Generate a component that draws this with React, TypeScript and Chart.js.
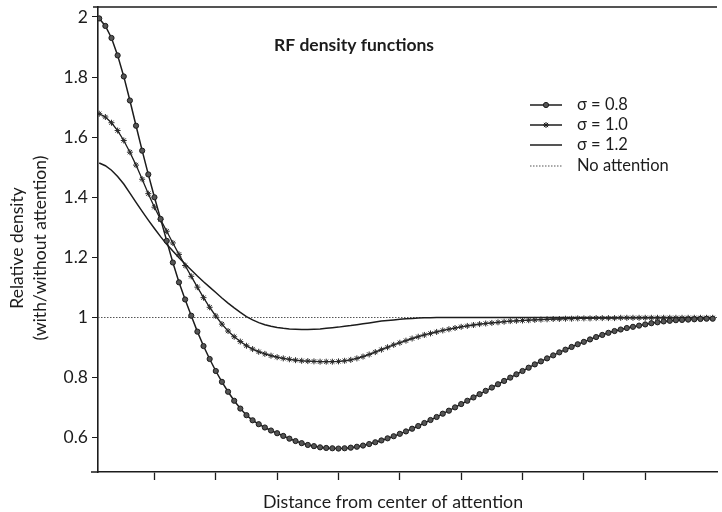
import React, { useEffect, useRef } from "react";
import { Chart, registerables } from "chart.js";

Chart.register(...registerables);

// Distance from the attended location (arbitrary units)
const distance = [
  0.1, 0.2, 0.3, 0.4, 0.5, 0.6, 0.7, 0.8, 0.9, 1.0,
  1.1, 1.2, 1.3, 1.4, 1.5, 1.6, 1.7, 1.8, 1.9, 2.0,
  2.1, 2.2, 2.3, 2.4, 2.5, 2.6, 2.7, 2.8, 2.9, 3.0,
  3.1, 3.2, 3.3, 3.4, 3.5, 3.6, 3.7, 3.8, 3.9, 4.0,
  4.1, 4.2, 4.3, 4.4, 4.5, 4.6, 4.7, 4.8, 4.9, 5.0,
  5.1, 5.2, 5.3, 5.4, 5.5, 5.6, 5.7, 5.8, 5.9, 6.0,
  6.1, 6.2, 6.3, 6.4, 6.5, 6.6, 6.7, 6.8, 6.9, 7.0,
  7.1, 7.2, 7.3, 7.4, 7.5, 7.6, 7.7, 7.8, 7.9, 8.0,
  8.1, 8.2, 8.3, 8.4, 8.5, 8.6, 8.7, 8.8, 8.9, 9.0,
  9.1, 9.2, 9.3, 9.4, 9.5, 9.6, 9.7, 9.8, 9.9, 10.0,
  10.1,
];

// Relative RF density, sigma = 0.8
const sigma08 = [
  1.995, 1.970, 1.930, 1.872, 1.802, 1.722, 1.638, 1.555, 1.476, 1.400,
  1.328, 1.255, 1.183, 1.117, 1.060, 1.006, 0.953, 0.905, 0.862, 0.822,
  0.786, 0.753, 0.723, 0.697, 0.675, 0.658, 0.645, 0.634, 0.624, 0.615,
  0.606, 0.597, 0.589, 0.582, 0.576, 0.572, 0.568, 0.566, 0.565, 0.564,
  0.565, 0.567, 0.570, 0.574, 0.579, 0.585, 0.591, 0.598, 0.605, 0.613,
  0.621, 0.630, 0.639, 0.649, 0.659, 0.669, 0.680, 0.690, 0.701, 0.712,
  0.723, 0.734, 0.745, 0.756, 0.767, 0.778, 0.789, 0.800, 0.811, 0.822,
  0.833, 0.844, 0.854, 0.864, 0.874, 0.884, 0.893, 0.902, 0.911, 0.919,
  0.927, 0.935, 0.942, 0.949, 0.955, 0.960, 0.965, 0.969, 0.973, 0.977,
  0.981, 0.984, 0.987, 0.989, 0.991, 0.992, 0.993, 0.994, 0.995, 0.996,
  0.996,
];

// Relative RF density, sigma = 1.0
const sigma10 = [
  1.678, 1.667, 1.648, 1.622, 1.589, 1.550, 1.507, 1.460, 1.412, 1.367,
  1.326, 1.287, 1.248, 1.210, 1.173, 1.137, 1.101, 1.066, 1.034, 1.005,
  0.978, 0.955, 0.936, 0.920, 0.906, 0.895, 0.886, 0.879, 0.873, 0.868,
  0.864, 0.861, 0.858, 0.856, 0.855, 0.854, 0.853, 0.853, 0.853, 0.854,
  0.856, 0.859, 0.864, 0.870, 0.877, 0.885, 0.893, 0.901, 0.909, 0.916,
  0.923, 0.930, 0.936, 0.942, 0.947, 0.952, 0.957, 0.961, 0.965, 0.969,
  0.972, 0.975, 0.978, 0.980, 0.982, 0.984, 0.986, 0.988, 0.989, 0.990,
  0.991, 0.992, 0.993, 0.994, 0.995, 0.995, 0.996, 0.996, 0.997, 0.997,
  0.997, 0.998, 0.998, 0.998, 0.998, 0.999, 0.999, 0.999, 0.999, 0.999,
  0.999, 0.999, 0.999, 0.999, 0.999, 0.999, 0.999, 0.999, 0.999, 0.999,
  0.999,
];

// Relative RF density, sigma = 1.2
const sigma12 = [
  1.514, 1.505, 1.490, 1.469, 1.444, 1.414, 1.383, 1.353, 1.324, 1.296,
  1.269, 1.244, 1.221, 1.199, 1.178, 1.158, 1.138, 1.119, 1.101, 1.083,
  1.065, 1.048, 1.032, 1.017, 1.003, 0.992, 0.983, 0.976, 0.971, 0.967,
  0.964, 0.962, 0.961, 0.960, 0.960, 0.961, 0.962, 0.964, 0.966, 0.968,
  0.971, 0.973, 0.976, 0.979, 0.982, 0.985, 0.988, 0.990, 0.992, 0.994,
  0.996, 0.997, 0.998, 0.999, 0.999, 1.000, 1.000, 1.000, 1.000, 1.000,
  1.000, 1.000, 1.000, 1.000, 1.000, 1.000, 1.000, 1.000, 1.000, 1.000,
  1.000, 1.000, 1.000, 1.000, 1.000, 1.000, 1.000, 1.000, 1.000, 1.000,
  1.000, 1.000, 1.000, 1.000, 1.000, 1.000, 1.000, 1.000, 1.000, 1.000,
  1.000, 1.000, 1.000, 1.000, 1.000, 1.000, 1.000, 1.000, 1.000, 1.000,
  1.000,
];

// Baseline without attention (density ratio of 1 everywhere)
const noAttention = [1, 1];

const yTicks = [0.6, 0.8, 1, 1.2, 1.4, 1.6, 1.8, 2];
const xTicks = [1, 2, 3, 4, 5, 6, 7, 8, 9];

const seriesLabels = ["σ = 0.8", "σ = 1.0", "σ = 1.2", "No attention"];
const chartTitle = "RF density functions";
const xTitle = "Distance from center of attention";
const yTitle = ["Relative density", "(with/without attention)"];

const X_MIN = 0.08;
const X_MAX = 10.17;
const Y_MIN = 0.486;
const Y_MAX = 2.033;

const INK = "#1c1c1c";
const FONT = "Lato, 'Open Sans', 'DejaVu Sans', sans-serif";

const toPoints = (ys: number[]) => ys.map((y, i) => ({ x: distance[i], y }));

function drawMarker(ctx: CanvasRenderingContext2D, kind: string, x: number, y: number) {
  ctx.save();
  ctx.lineWidth = 1;
  ctx.strokeStyle = "#1c1c1c";
  if (kind === "circle") {
    ctx.fillStyle = "#555";
    ctx.beginPath();
    ctx.arc(x, y, 2.6, 0, Math.PI * 2);
    ctx.fill();
    ctx.stroke();
  } else if (kind === "star") {
    const r = 3;
    const d = r * Math.SQRT1_2;
    ctx.beginPath();
    ctx.moveTo(x - r, y); ctx.lineTo(x + r, y);
    ctx.moveTo(x, y - r); ctx.lineTo(x, y + r);
    ctx.moveTo(x - d, y - d); ctx.lineTo(x + d, y + d);
    ctx.moveTo(x - d, y + d); ctx.lineTo(x + d, y - d);
    ctx.stroke();
  }
  ctx.restore();
}

const decorations = {
  id: "decorations",
  afterDraw(chart: Chart) {
    const { ctx, chartArea: a } = chart;
    ctx.save();

    // frame line along the top and the short stub of the x axis
    ctx.strokeStyle = INK;
    ctx.lineWidth = 1.6;
    ctx.beginPath();
    ctx.moveTo(a.left - 5, a.top);
    ctx.lineTo(a.right, a.top);
    ctx.moveTo(a.left - 7, a.bottom);
    ctx.lineTo(a.left, a.bottom);
    ctx.stroke();

    ctx.fillStyle = INK;
    ctx.textBaseline = "middle";

    // chart title
    ctx.font = `bold 17.5px ${FONT}`;
    ctx.textAlign = "left";
    ctx.fillText(chartTitle, 274, 45);

    // axis titles
    ctx.font = `17.8px ${FONT}`;
    ctx.textAlign = "center";
    ctx.fillText(xTitle, 393, 502);
    ctx.font = `17.5px ${FONT}`;
    [17, 40].forEach((cx, i) => {
      ctx.save();
      ctx.translate(cx, 248);
      ctx.rotate(-Math.PI / 2);
      ctx.fillText(yTitle[i], 0, 0);
      ctx.restore();
    });

    // legend
    const rows = [105, 125, 145, 166];
    const markers = ["circle", "star", "", ""];
    ctx.font = `16.5px ${FONT}`;
    ctx.textAlign = "left";
    rows.forEach((ry, i) => {
      ctx.save();
      ctx.strokeStyle = i === 3 ? "#555" : INK;
      ctx.lineWidth = i === 3 ? 1.2 : 1.5;
      if (i === 3) ctx.setLineDash([1.5, 1.5]);
      ctx.beginPath();
      ctx.moveTo(530, ry);
      ctx.lineTo(562, ry);
      ctx.stroke();
      ctx.restore();
      if (markers[i]) drawMarker(ctx, markers[i], 546, ry);
      ctx.fillStyle = INK;
      ctx.fillText(seriesLabels[i], 577, ry);
    });

    ctx.restore();
  },
};

export default function App() {
  const canvasRef = useRef<HTMLCanvasElement | null>(null);

  useEffect(() => {
    const canvas = canvasRef.current;
    if (!canvas) return;

    const chart = new Chart(canvas, {
      type: "line",
      data: {
        datasets: [
          {
            label: seriesLabels[0],
            data: toPoints(sigma08),
            borderColor: INK,
            borderWidth: 1.5,
            pointStyle: "circle",
            pointRadius: 2.6,
            pointBackgroundColor: "#555",
            pointBorderColor: "#1c1c1c",
            pointBorderWidth: 1,
            tension: 0,
          },
          {
            label: seriesLabels[1],
            data: toPoints(sigma10),
            borderColor: INK,
            borderWidth: 1.3,
            pointStyle: "star",
            pointRadius: 3,
            pointBorderColor: "#2a2a2a",
            pointBorderWidth: 1,
            tension: 0,
          },
          {
            label: seriesLabels[2],
            data: toPoints(sigma12),
            borderColor: INK,
            borderWidth: 1.5,
            pointRadius: 0,
            tension: 0,
          },
          {
            label: seriesLabels[3],
            data: [
              { x: X_MIN, y: noAttention[0] },
              { x: X_MAX, y: noAttention[1] },
            ],
            borderColor: "#555",
            borderWidth: 1,
            borderDash: [1.5, 1.5],
            pointRadius: 0,
          },
        ],
      },
      options: {
        responsive: false,
        animation: false,
        devicePixelRatio: 1,
        layout: { padding: { top: 7, left: 0, right: 0, bottom: 0 } },
        plugins: {
          legend: { display: false },
          title: { display: false },
          tooltip: { enabled: false },
        },
        scales: {
          x: {
            type: "linear",
            min: X_MIN,
            max: X_MAX,
            afterBuildTicks: (s: any) => {
              s.ticks = xTicks.map((v) => ({ value: v }));
            },
            ticks: { display: false },
            grid: {
              drawOnChartArea: false,
              drawTicks: true,
              tickLength: 8,
              tickColor: INK,
              tickWidth: 1.3,
            },
            border: { display: true, color: INK, width: 1.6 },
            afterFit: (s: any) => {
              s.height = 40;
              s.paddingLeft = 0;
              s.paddingRight = 0;
            },
          },
          y: {
            type: "linear",
            min: Y_MIN,
            max: Y_MAX,
            afterBuildTicks: (s: any) => {
              s.ticks = yTicks.map((v) => ({ value: v }));
            },
            ticks: {
              color: INK,
              font: { family: FONT, size: 17.5 },
              padding: 4,
              callback: (v: any) => String(v),
            },
            grid: {
              drawOnChartArea: false,
              tickLength: 6,
              tickColor: INK,
              tickWidth: 1,
            },
            border: { display: true, color: INK, width: 1.6 },
            afterFit: (s: any) => {
              s.width = 98;
              s.paddingTop = 0;
              s.paddingBottom = 0;
            },
          },
        },
      },
      plugins: [decorations],
    } as any);

    return () => chart.destroy();
  }, []);

  return (
    <div style={{ position: "fixed", left: 0, top: 0, width: 722, height: 512, background: "#fff" }}>
      <canvas ref={canvasRef} width={722} height={512} />
    </div>
  );
}
